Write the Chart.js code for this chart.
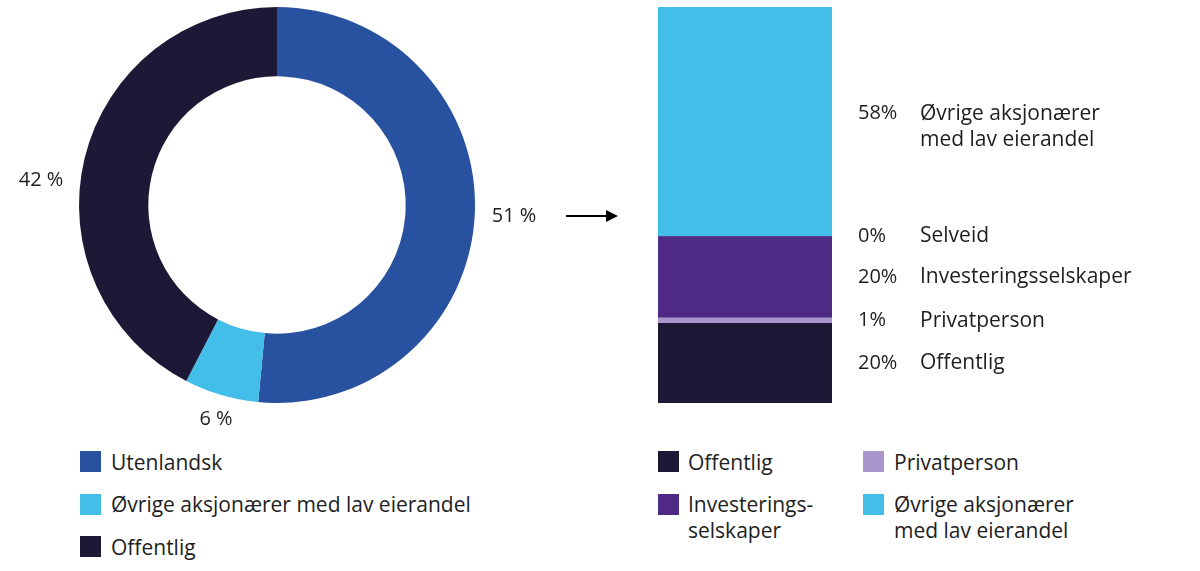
<!DOCTYPE html>
<html>
<head>
<meta charset="utf-8">
<script src="https://cdn.jsdelivr.net/npm/chart.js@4"></script>
<style>
  html, body { margin:0; padding:0; background:#fff; }
  #wrap { position:relative; width:1200px; height:571px; font-family:"Open Sans", sans-serif; color:#1e1e1e; }
  .box { position:absolute; }
  .leg { position:absolute; font-size:21px; line-height:26px; white-space:nowrap; }
  .sw { position:absolute; width:21px; height:21px; }
</style>
</head>
<body>
<div id="wrap">
  <div class="box" style="left:0;top:0;width:554px;height:440px"><canvas id="donut"></canvas></div>
  <div class="box" style="left:560px;top:0;width:640px;height:420px"><canvas id="bar"></canvas></div>
  <svg class="box" style="left:560px;top:200px" width="70" height="32">
    <line x1="6" y1="16" x2="50" y2="16" stroke="#000" stroke-width="2"/>
    <polygon points="46,10 58,16 46,22" fill="#000"/>
  </svg>
  <div id="legends"></div>
</div>
<script>
// ---- Data ----
const donutLabels = ['Utenlandsk', 'Øvrige aksjonærer med lav eierandel', 'Offentlig'];
const donutValues = [51, 6, 42];
const donutColors = ['#2852A0', '#42BEE8', '#1C1835'];

const barLabels = ['Offentlig', 'Privatperson', 'Investeringsselskaper', 'Selveid', 'Øvrige aksjonærer med lav eierandel'];
const barValues = [20.0, 1.4, 20.4, 0, 57.6];
const barColors = ['#1C1835', '#A896CC', '#4E2A84', '#6A4CA0', '#42BEE8'];
const barTextLines = [['Offentlig'], ['Privatperson'], ['Investeringsselskaper'], ['Selveid'], ['Øvrige aksjonærer', 'med lav eierandel']];

const legendLeft = [
  {label: ['Utenlandsk'], color: '#2852A0'},
  {label: ['Øvrige aksjonærer med lav eierandel'], color: '#42BEE8'},
  {label: ['Offentlig'], color: '#1C1835'}
];
const legendRightCol1 = [
  {label: ['Offentlig'], color: '#1C1835'},
  {label: ['Investerings-', 'selskaper'], color: '#4E2A84'}
];
const legendRightCol2 = [
  {label: ['Privatperson'], color: '#A896CC'},
  {label: ['Øvrige aksjonærer', 'med lav eierandel'], color: '#42BEE8'}
];

Chart.defaults.font.family = '"Open Sans", sans-serif';
const TEXT = '#1e1e1e';

// Doughnut value labels (offsets relative to centre, text layout only)
const donutLabelOffsets = [[237, 11], [-61, 214], [-236, -25]];

const donutLabelPlugin = {
  id: 'donutLabels',
  afterDatasetsDraw(chart) {
    const ctx = chart.ctx;
    const meta = chart.getDatasetMeta(0);
    ctx.save();
    ctx.font = '20px "Open Sans"';
    ctx.fillStyle = TEXT;
    ctx.textAlign = 'center';
    ctx.textBaseline = 'middle';
    meta.data.forEach((arc, i) => {
      const o = donutLabelOffsets[i];
      ctx.fillText(donutValues[i] + ' %', arc.x + o[0], arc.y + o[1]);
    });
    ctx.restore();
  }
};

new Chart(document.getElementById('donut'), {
  type: 'doughnut',
  data: {
    labels: donutLabels,
    datasets: [{ data: donutValues, backgroundColor: donutColors, borderWidth: 0 }]
  },
  options: {
    responsive: true,
    maintainAspectRatio: false,
    animation: false,
    cutout: '65%',
    layout: { padding: { left: 79, right: 79, top: 7, bottom: 37 } },
    plugins: { legend: { display: false }, tooltip: { enabled: false } }
  },
  plugins: [donutLabelPlugin]
});

const barLabelPlugin = {
  id: 'barLabels',
  afterDatasetsDraw(chart) {
    const ctx = chart.ctx;
    const right = chart.chartArea.right;
    ctx.save();
    ctx.fillStyle = TEXT;
    ctx.textAlign = 'left';
    ctx.textBaseline = 'middle';
    chart.data.datasets.forEach((ds, i) => {
      const el = chart.getDatasetMeta(i).data[0];
      const cy = (el.y + el.base) / 2;
      const lines = barTextLines[i];
      const y0 = cy - (lines.length - 1) * 8;
      ctx.font = '20px "Open Sans"';
      ctx.fillText(Math.round(barValues[i]) + '%', right + 26, y0);
      ctx.font = '21px "Open Sans"';
      lines.forEach((t, k) => ctx.fillText(t, right + 88, y0 + k * 26));
    });
    ctx.restore();
  }
};

const total = barValues.reduce((a, b) => a + b, 0);
new Chart(document.getElementById('bar'), {
  type: 'bar',
  data: {
    labels: [''],
    datasets: barLabels.map((l, i) => ({
      label: l, data: [barValues[i]], backgroundColor: barColors[i],
      borderWidth: 0, barPercentage: 1, categoryPercentage: 1
    }))
  },
  options: {
    responsive: true,
    maintainAspectRatio: false,
    animation: false,
    layout: { padding: { left: 98, right: 368, top: 7, bottom: 17 } },
    scales: {
      x: { stacked: true, display: false },
      y: { stacked: true, display: false, min: 0, max: total }
    },
    plugins: { legend: { display: false }, tooltip: { enabled: false } }
  },
  plugins: [barLabelPlugin]
});

// ---- HTML legends ----
const legRoot = document.getElementById('legends');
function addLegend(items, sx, tx, top0, step) {
  items.forEach((it, i) => {
    const top = top0 + i * step;
    const sw = document.createElement('div');
    sw.className = 'sw';
    sw.style.left = sx + 'px';
    sw.style.top = top + 'px';
    sw.style.background = it.color;
    legRoot.appendChild(sw);
    const tx_ = document.createElement('div');
    tx_.className = 'leg';
    tx_.style.left = tx + 'px';
    tx_.style.top = (top + 10.5 - 13) + 'px';
    tx_.innerHTML = it.label.join('<br>');
    legRoot.appendChild(tx_);
  });
}
addLegend(legendLeft, 80, 111, 451, 42.5);
addLegend(legendRightCol1, 658, 688, 451, 42.5);
addLegend(legendRightCol2, 863, 894, 451, 42.5);
</script>
</body>
</html>
